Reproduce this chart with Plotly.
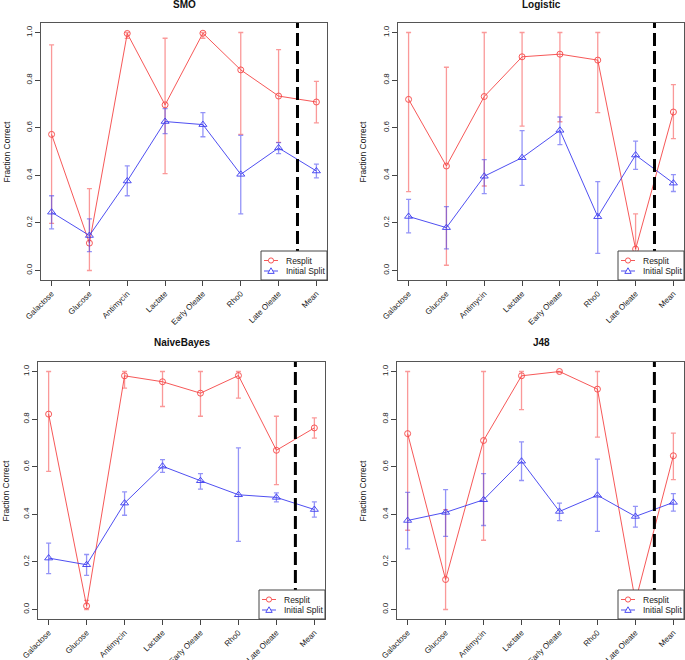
import plotly.graph_objects as go

categories = ["Galactose", "Glucose", "Antimycin", "Lactate", "Early Oleate", "Rho0", "Late Oleate", "Mean"]
panel_titles = ["SMO", "Logistic", "NaiveBayes", "J48"]
series_names = ["Resplit", "Initial Split"]
y_ticks = [0.0, 0.2, 0.4, 0.6, 0.8, 1.0]

# SMO
smo_resplit = [0.572, 0.115, 0.996, 0.696, 0.997, 0.843, 0.733, 0.708]
smo_resplit_hi = [0.948, 0.344, 1.0, 0.976, 1.0, 1.0, 0.928, 0.795]
smo_resplit_lo = [0.198, 0.0, 0.975, 0.407, 0.976, 0.572, 0.538, 0.620]
smo_initial = [0.245, 0.147, 0.376, 0.626, 0.613, 0.404, 0.515, 0.418]
smo_initial_hi = [0.314, 0.217, 0.440, 0.680, 0.663, 0.568, 0.537, 0.447]
smo_initial_lo = [0.175, 0.079, 0.314, 0.575, 0.562, 0.238, 0.491, 0.389]

# Logistic
log_resplit = [0.719, 0.439, 0.731, 0.898, 0.909, 0.884, 0.090, 0.666]
log_resplit_hi = [1.0, 0.854, 1.0, 1.0, 1.0, 1.0, 0.238, 0.781]
log_resplit_lo = [0.331, 0.022, 0.355, 0.607, 0.625, 0.663, 0.0, 0.554]
log_initial = [0.227, 0.180, 0.396, 0.474, 0.589, 0.226, 0.485, 0.367]
log_initial_hi = [0.299, 0.268, 0.466, 0.588, 0.645, 0.373, 0.544, 0.403]
log_initial_lo = [0.158, 0.091, 0.323, 0.358, 0.529, 0.072, 0.425, 0.332]

# NaiveBayes
nb_resplit = [0.821, 0.015, 0.982, 0.957, 0.909, 0.983, 0.669, 0.763]
nb_resplit_hi = [1.0, 0.038, 1.0, 1.0, 1.0, 1.0, 0.812, 0.805]
nb_resplit_lo = [0.580, 0.0, 0.930, 0.853, 0.812, 0.888, 0.525, 0.720]
nb_initial = [0.216, 0.188, 0.447, 0.602, 0.541, 0.482, 0.471, 0.420]
nb_initial_hi = [0.279, 0.231, 0.494, 0.630, 0.571, 0.679, 0.490, 0.452]
nb_initial_lo = [0.151, 0.143, 0.396, 0.576, 0.506, 0.286, 0.452, 0.388]

# J48
j48_resplit = [0.739, 0.126, 0.710, 0.982, 1.0, 0.926, 0.034, 0.646]
j48_resplit_hi = [1.0, 0.420, 1.0, 1.0, 1.0, 1.0, 0.055, 0.741]
j48_resplit_lo = [0.333, 0.0, 0.291, 0.840, 0.995, 0.724, 0.010, 0.546]
j48_initial = [0.374, 0.408, 0.461, 0.623, 0.412, 0.480, 0.391, 0.450]
j48_initial_hi = [0.492, 0.504, 0.571, 0.704, 0.447, 0.632, 0.433, 0.487]
j48_initial_lo = [0.255, 0.307, 0.353, 0.542, 0.373, 0.328, 0.346, 0.413]

panels = [
    (smo_resplit, smo_resplit_hi, smo_resplit_lo, smo_initial, smo_initial_hi, smo_initial_lo),
    (log_resplit, log_resplit_hi, log_resplit_lo, log_initial, log_initial_hi, log_initial_lo),
    (nb_resplit, nb_resplit_hi, nb_resplit_lo, nb_initial, nb_initial_hi, nb_initial_lo),
    (j48_resplit, j48_resplit_hi, j48_resplit_lo, j48_initial, j48_initial_hi, j48_initial_lo),
]

W, H = 685, 660
# plot boxes in pixels: (left, right, top, bottom)
boxes = [(41, 327, 23, 280), (398, 684, 23, 280), (38, 325, 362, 619), (397, 684, 362, 619)]
title_pos = [(184, 5), (541, 4), (182, 342), (541, 342)]
ylabel_x = [7, 363, 5, 362]
LEG_W, LEG_H = 66, 29

FONT = "Liberation Sans, Arial, Helvetica, sans-serif"
RED_LINE = "rgba(245,70,70,0.9)"
RED_ERR = "rgba(245,70,70,0.55)"
BLUE_LINE = "rgba(60,60,240,0.9)"
BLUE_ERR = "rgba(60,60,240,0.55)"


def px(xp):
    return xp / W


def py(yp):
    return (H - yp) / H


fig = go.Figure()
layout = dict(width=W, height=H, margin=dict(l=0, r=0, t=0, b=0), template="none",
              paper_bgcolor="white", plot_bgcolor="white", showlegend=False,
              font=dict(family=FONT, color="#222"),
              annotations=[], shapes=[])

for i, (rv, rhi, rlo, iv, ihi, ilo) in enumerate(panels):
    n = i + 1
    xa = "x" if n == 1 else f"x{n}"
    ya = "y" if n == 1 else f"y{n}"
    l, r, t, b = boxes[i]
    xdom = [px(l), px(r)]
    ydom = [py(b), py(t)]

    fig.add_trace(go.Scatter(
        x=categories, y=rv, mode="lines+markers", name=series_names[0],
        xaxis=xa, yaxis=ya,
        line=dict(color=RED_LINE, width=1),
        marker=dict(symbol="circle-open", size=6, color=RED_LINE, line=dict(width=1)),
        error_y=dict(type="data", symmetric=False,
                     array=[h - v for h, v in zip(rhi, rv)],
                     arrayminus=[v - lo for v, lo in zip(rv, rlo)],
                     color=RED_ERR, thickness=1.3, width=2.5),
    ))
    fig.add_trace(go.Scatter(
        x=categories, y=iv, mode="lines+markers", name=series_names[1],
        xaxis=xa, yaxis=ya,
        line=dict(color=BLUE_LINE, width=1),
        marker=dict(symbol="triangle-up-open", size=7, color=BLUE_LINE, line=dict(width=1)),
        error_y=dict(type="data", symmetric=False,
                     array=[h - v for h, v in zip(ihi, iv)],
                     arrayminus=[v - lo for v, lo in zip(iv, ilo)],
                     color=BLUE_ERR, thickness=1.3, width=2.5),
    ))

    xkey = "xaxis" if n == 1 else f"xaxis{n}"
    ykey = "yaxis" if n == 1 else f"yaxis{n}"
    layout[xkey] = dict(domain=xdom, anchor=ya, type="category", range=[-0.28, 7.28],
                        automargin=False,
                        showline=True, linecolor="#555", linewidth=1, mirror=True,
                        ticks="outside", ticklen=5, tickcolor="#444", tickangle=-45,
                        showgrid=False, zeroline=False, tickfont=dict(size=8, color="#222"))
    layout[ykey] = dict(domain=ydom, anchor=xa, range=[-0.04, 1.04], automargin=False,
                        tickvals=y_ticks, tickformat=".1f",
                        showline=True, linecolor="#555", linewidth=1, mirror=True,
                        ticks="outside", ticklen=5, tickcolor="#444", tickangle=-90,
                        showgrid=False, zeroline=False, tickfont=dict(size=8, color="#222"))

    # dashed separator before the "Mean" column
    layout["shapes"].append(dict(type="line", xref=xa, yref=f"{ya} domain",
                                 x0=6.5, x1=6.5, y0=0, y1=1,
                                 line=dict(color="black", width=3, dash="13px,5px")))

    # legend box (bottom-right, inside the plot)
    L, T = r - LEG_W, b - LEG_H
    layout["shapes"].append(dict(type="rect", xref="paper", yref="paper",
                                 x0=px(L), x1=px(r), y0=py(b), y1=py(T),
                                 fillcolor="white", line=dict(color="#444", width=1), layer="above"))
    rows = [(T + 9.5, RED_LINE, "circle"), (T + 20, BLUE_LINE, "triangle")]
    for (ry, col, sym), name in zip(rows, series_names):
        layout["shapes"].append(dict(type="line", xref="paper", yref="paper",
                                     x0=px(L + 3), x1=px(L + 17), y0=py(ry), y1=py(ry),
                                     line=dict(color=col, width=1), layer="above"))
        cx = L + 10
        if sym == "circle":
            layout["shapes"].append(dict(type="circle", xref="paper", yref="paper",
                                         x0=px(cx - 2.6), x1=px(cx + 2.6), y0=py(ry + 2.6), y1=py(ry - 2.6),
                                         fillcolor="white", line=dict(color=col, width=1), layer="above"))
        else:
            path = (f"M {px(cx - 3.2)} {py(ry + 2.4)} L {px(cx + 3.2)} {py(ry + 2.4)} "
                    f"L {px(cx)} {py(ry - 3.2)} Z")
            layout["shapes"].append(dict(type="path", xref="paper", yref="paper", path=path,
                                         fillcolor="white", line=dict(color=col, width=1), layer="above"))
        layout["annotations"].append(dict(text=name, xref="paper", yref="paper",
                                          x=px(L + 23), y=py(ry), xanchor="left", yanchor="middle",
                                          showarrow=False, font=dict(size=8.5, color="#222")))

    tx, ty = title_pos[i]
    layout["annotations"].append(dict(text=f"<b>{panel_titles[i]}</b>", xref="paper", yref="paper",
                                      x=px(tx), y=py(ty), xanchor="center", yanchor="middle",
                                      showarrow=False, font=dict(size=10, color="#111")))
    layout["annotations"].append(dict(text="Fraction Correct", xref="paper", yref="paper",
                                      x=px(ylabel_x[i]), y=sum(ydom) / 2, xanchor="center", yanchor="middle",
                                      textangle=-90, showarrow=False, font=dict(size=8.5, color="#222")))

fig.update_layout(**layout)
fig.write_html("out.html", config={"displayModeBar": False},
               post_script="document.body.style.margin='0px';document.body.style.overflow='hidden';")
